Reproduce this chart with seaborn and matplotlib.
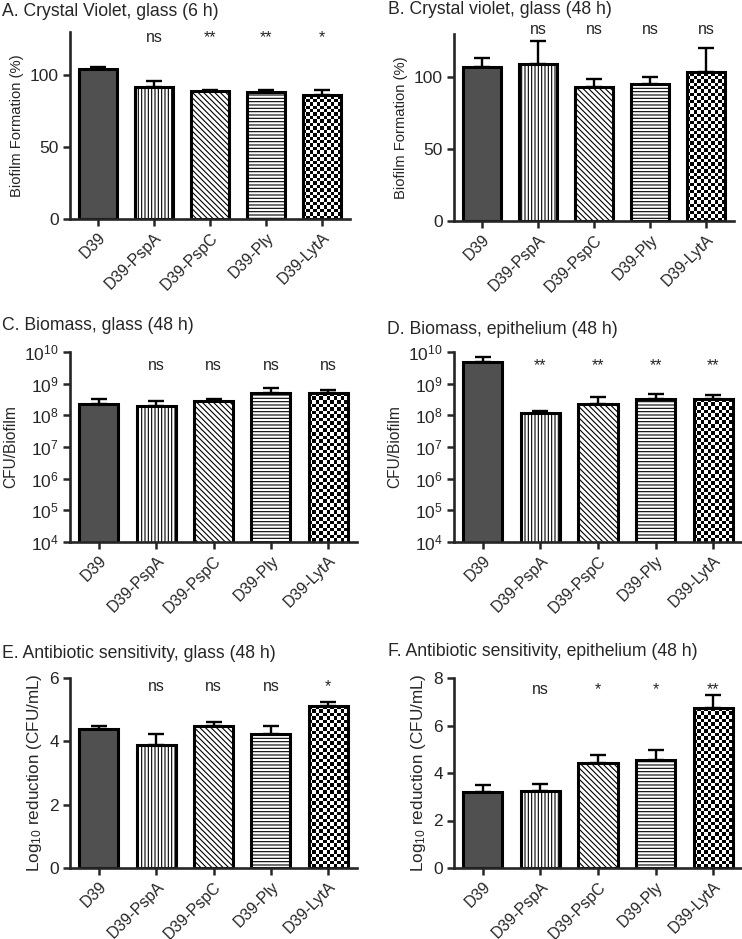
import matplotlib
matplotlib.use('Agg')
import matplotlib.pyplot as plt
from matplotlib.colors import ListedColormap
import numpy as np
import pandas as pd
import seaborn as sns

# strains shared by all six panels
strains = ['D39', 'D39-PspA', 'D39-PspC', 'D39-Ply', 'D39-LytA']

# A. crystal violet, glass, 6 h (% biofilm formation)
cv6_mean = [104, 92, 89, 88.5, 86]
cv6_err = [2, 4, 1, 1.5, 4]
cv6_sig = ['', 'ns', '**', '**', '*']

# B. crystal violet, glass, 48 h
cv48_mean = [107, 109, 93, 95, 103.5]
cv48_err = [6, 16, 6, 5, 16.5]
cv48_sig = ['', 'ns', 'ns', 'ns', 'ns']

# C. biomass, glass, 48 h (CFU/biofilm)
bm_glass_mean = [2.2e8, 1.95e8, 2.75e8, 5.1e8, 5.1e8]
bm_glass_err = [1.0e8, 0.85e8, 0.55e8, 2.1e8, 1.3e8]
bm_glass_sig = ['', 'ns', 'ns', 'ns', 'ns']

# D. biomass, epithelium, 48 h
bm_epi_mean = [4.8e9, 1.15e8, 2.3e8, 3.3e8, 3.3e8]
bm_epi_err = [2.1e9, 0.25e8, 1.5e8, 1.4e8, 1.1e8]
bm_epi_sig = ['', '**', '**', '**', '**']

# E. antibiotic sensitivity, glass (log10 reduction)
ab_glass_mean = [4.40, 3.89, 4.49, 4.24, 5.12]
ab_glass_err = [0.10, 0.35, 0.11, 0.25, 0.12]
ab_glass_sig = ['', 'ns', 'ns', 'ns', '*']

# F. antibiotic sensitivity, epithelium
ab_epi_mean = [3.20, 3.23, 4.42, 4.53, 6.74]
ab_epi_err = [0.28, 0.31, 0.32, 0.42, 0.53]
ab_epi_sig = ['', 'ns', '*', '*', '**']

sns.set_style('ticks')
plt.rcParams['font.family'] = ['Liberation Sans', 'DejaVu Sans']
plt.rcParams['mathtext.fontset'] = 'custom'
plt.rcParams['mathtext.rm'] = 'Liberation Sans'
plt.rcParams['mathtext.it'] = 'Liberation Sans:italic'
plt.rcParams['mathtext.default'] = 'regular'
plt.rcParams['hatch.linewidth'] = 0.8

HATCHES = [None, '|||||', '\\\\\\\\\\\\', '-----', 'checker']
EDGE_LW = 2.2


def add_checker(ax, patch, log, ncols=11):
    """Fill a bar with a black/white checkerboard (GraphPad style)."""
    x0 = patch.get_x()
    w = patch.get_width()
    top = patch.get_y() + patch.get_height()
    ybot = ax.get_ylim()[0] if log else 0
    bl = ax.transData.transform((x0, ybot))
    tr = ax.transData.transform((x0 + w, top))
    sq = (tr[0] - bl[0]) / ncols
    nrows = max(1, int(round((tr[1] - bl[1]) / sq)))
    xe = np.linspace(x0, x0 + w, ncols + 1)
    ye = np.geomspace(ybot, top, nrows + 1) if log else np.linspace(ybot, top, nrows + 1)
    c = np.add.outer(np.arange(nrows), np.arange(ncols)) % 2
    mesh = ax.pcolormesh(xe, ye, c, cmap=ListedColormap(['white', 'black']),
                         shading='flat', zorder=patch.get_zorder() - 0.1)
    mesh.set_clip_path(patch)
    patch.set_facecolor('none')


def draw_panel(ax, mean, err, sig, ylabel, ylim, yticks, sig_y, log=False,
               ylabel_size=10.6):
    if log:
        ax.set_yscale('log')
    df = pd.DataFrame({'strain': strains, 'value': mean})
    sns.barplot(data=df, x='strain', y='value', ax=ax, color='white',
                saturation=1, edgecolor='black', linewidth=EDGE_LW,
                width=0.68, errorbar=None)
    ax.errorbar(range(len(strains)), mean, yerr=[np.zeros(len(mean)), err],
                fmt='none', ecolor='black', elinewidth=1.7, capsize=6,
                capthick=1.7, zorder=0.8)
    ax.set_xlim(-0.5, 4.5)
    ax.set_ylim(*ylim)
    for p, h in zip(ax.patches, HATCHES):
        if h is None:
            p.set_facecolor('#505050')
        elif h == 'checker':
            add_checker(ax, p, log)
        else:
            p.set_hatch(h)
    ax.set_xlim(-0.5, 4.5)
    ax.set_ylim(*ylim)
    ax.set_yticks(yticks)
    if log:
        ax.set_yticklabels([f'$10^{{{int(np.log10(t))}}}$' for t in yticks])
        ax.minorticks_off()
    ax.set_xticks(range(len(strains)))
    ax.set_xticklabels(strains, rotation=45, ha='right', rotation_mode='anchor')
    ax.set_xlabel('')
    ax.set_ylabel(ylabel, fontsize=ylabel_size, labelpad=4)
    ax.tick_params(axis='both', width=1.8, length=5, pad=3)
    ax.tick_params(axis='y', labelsize=12.5)
    ax.tick_params(axis='x', labelsize=11.5)
    for s in ('left', 'bottom'):
        ax.spines[s].set_linewidth(1.9)
    sns.despine(ax=ax)
    for i, s in enumerate(sig):
        if s:
            ax.text(i, sig_y, s, ha='center', va='center', fontsize=11.5,
                    clip_on=False)


W, H = 742, 939
fig = plt.figure(figsize=(W / 100, H / 100), dpi=100)


def axes_px(left, right, top, bottom):
    return fig.add_axes([left / W, 1 - bottom / H, (right - left) / W, (bottom - top) / H])


ax_a = axes_px(70, 350, 32, 219)
ax_b = axes_px(454, 734, 34, 221)
ax_c = axes_px(70, 357, 352, 542)
ax_d = axes_px(454, 742, 352, 542)
ax_e = axes_px(70, 357, 678, 868)
ax_f = axes_px(454, 742, 678, 868)

draw_panel(ax_a, cv6_mean, cv6_err, cv6_sig, 'Biofilm Formation (%)',
           (0, 130), [0, 50, 100], 126)
draw_panel(ax_b, cv48_mean, cv48_err, cv48_sig, 'Biofilm Formation (%)',
           (0, 130), [0, 50, 100], 133)
log_ticks = [1e4, 1e5, 1e6, 1e7, 1e8, 1e9, 1e10]
draw_panel(ax_c, bm_glass_mean, bm_glass_err, bm_glass_sig, 'CFU/Biofilm',
           (1e4, 1e10), log_ticks, 10 ** 9.57, log=True, ylabel_size=11.2)
draw_panel(ax_d, bm_epi_mean, bm_epi_err, bm_epi_sig, 'CFU/Biofilm',
           (1e4, 1e10), log_ticks, 10 ** 9.57, log=True, ylabel_size=11.2)
draw_panel(ax_e, ab_glass_mean, ab_glass_err, ab_glass_sig,
           'Log$_{10}$ reduction (CFU/mL)', (0, 6), [0, 2, 4, 6], 5.73,
           ylabel_size=12.3)
draw_panel(ax_f, ab_epi_mean, ab_epi_err, ab_epi_sig,
           'Log$_{10}$ reduction (CFU/mL)', (0, 8), [0, 2, 4, 6, 8], 7.5,
           ylabel_size=12.3)

titles = [
    (2, 12, 'A. Crystal Violet, glass (6 h)'),
    (388, 10, 'B. Crystal violet, glass (48 h)'),
    (2, 326, 'C. Biomass, glass (48 h)'),
    (387, 329, 'D. Biomass, epithelium (48 h)'),
    (2, 654, 'E. Antibiotic sensitivity, glass (48 h)'),
    (388, 652, 'F. Antibiotic sensitivity, epithelium (48 h)'),
]
for x, y, t in titles:
    fig.text(x / W, 1 - y / H, t, ha='left', va='center', fontsize=12.7)

fig.savefig('out.png', dpi=100)
